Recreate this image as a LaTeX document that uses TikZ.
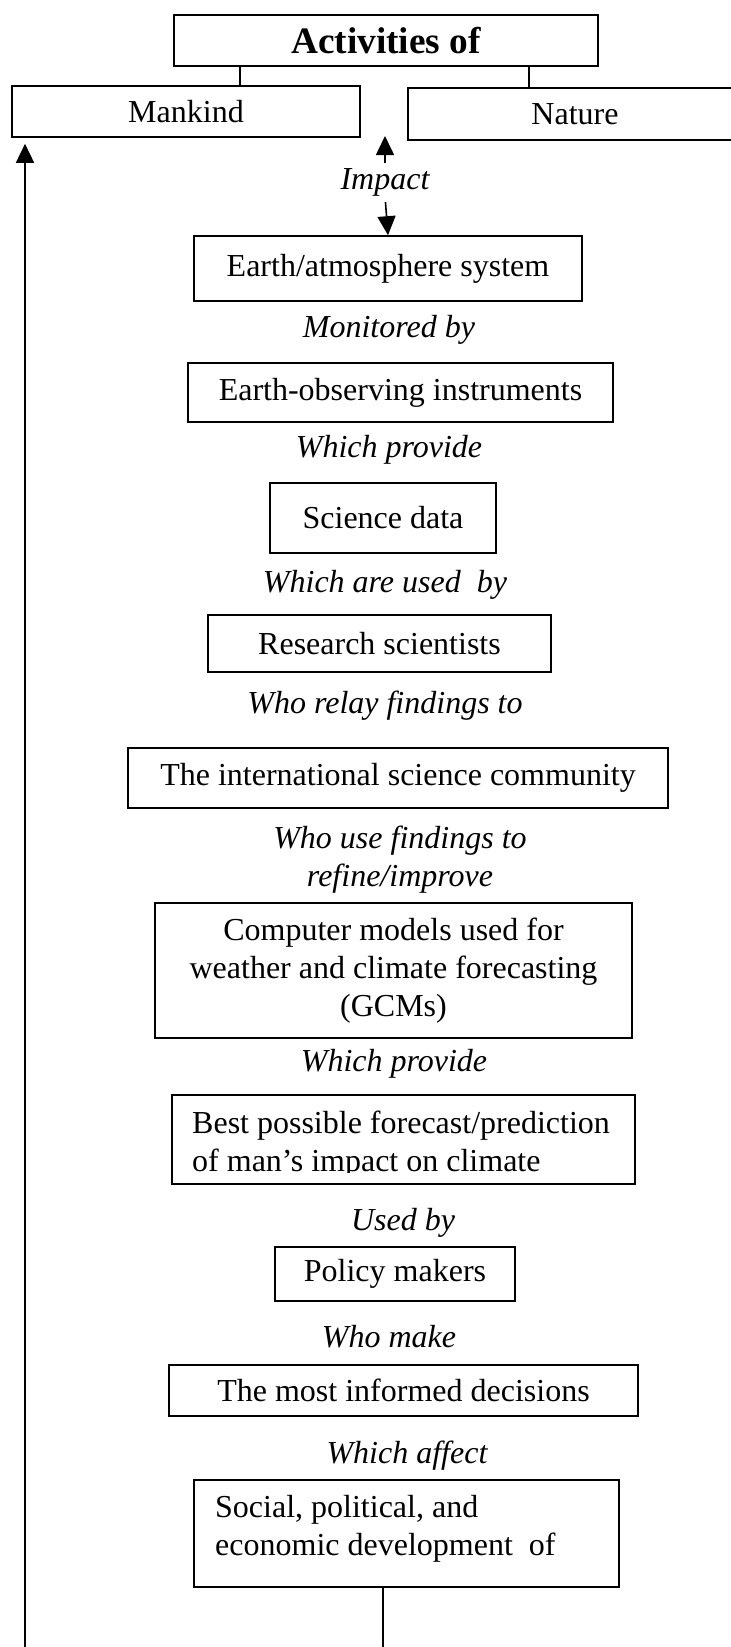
\documentclass[tikz,border=0pt]{standalone}
\usepackage{fontspec}
\setmainfont{Liberation Serif}
\usetikzlibrary{arrows.meta,calc}
\begin{document}
\begin{tikzpicture}[x=1pt,y=-1pt,
  box/.style={draw, line width=1.6pt, inner sep=0pt, align=center, font=\fontsize{32}{38}\selectfont},
  txt/.style={inner sep=0pt, font=\fontsize{32}{38}\selectfont},
  lbl/.style={inner sep=0pt, align=center, font=\fontsize{32}{38}\selectfont\itshape},
  conn/.style={line width=1.6pt},
  arr/.style={line width=1.6pt, -{Triangle[length=19pt,width=18pt]}}]
\useasboundingbox (0,0) rectangle (731,1647);
% top
\node[box, minimum width=424pt, minimum height=51pt, font=\fontsize{37.3}{44}\selectfont\bfseries] (act) at (386,40.5) {Activities of};
\node[box, minimum width=348pt, minimum height=51pt] (mank) at (186,111.5) {Mankind};
\node[box, minimum width=334pt, minimum height=52pt] (nat) at (575,114) {Nature};
\coordinate (c1) at (240,0);
\coordinate (c2) at (529,0);
\draw[conn] (c1 |- act.south) -- (c1 |- mank.north);
\draw[conn] (c2 |- act.south) -- (c2 |- nat.north);
% impact
\node[lbl] (imp) at (385,182) {Impact};
\coordinate (uptip) at (385,136);
\node[box, minimum width=388pt, minimum height=65pt] (earth) at (388,268.5) {Earth/atmosphere system};
\draw[arr, shorten <=4.5pt] (imp.north) -- (uptip);
\draw[arr, shorten <=6pt] (imp.south) -- (earth.north);
% chain
\node[lbl] (mon) at (389,330) {Monitored by};
\node[box, minimum width=425pt, minimum height=59pt] (obs) at (400.5,392.5) {Earth-observing instruments};
\node[lbl] (prov1) at (389,450) {Which provide};
\node[box, minimum width=226pt, minimum height=70pt] (sci) at (383,518) {Science data};
\node[lbl] (used) at (385,585) {Which are used\ \ by};
\node[box, minimum width=343pt, minimum height=57pt] (res) at (379.5,643.5) {Research scientists};
\node[lbl] (relay) at (385,706) {Who relay findings to};
\node[box, minimum width=540pt, minimum height=60pt] (intl) at (398,778) {The international science community};
\node[lbl] (refine) at (400,860) {Who use findings to\\refine/improve};
\node[box, minimum width=477pt, minimum height=135pt] (gcm) at (393.5,970.5) {Computer models used for\\weather and climate forecasting\\(GCMs)};
\node[lbl] (prov2) at (394,1064) {Which provide};
\node[box, minimum width=463pt, minimum height=89pt] (best) at (403.5,1139.5) {};
\node[txt, anchor=base west] (best1) at (192,1133) {Best possible forecast/prediction};
\node[txt, anchor=base west] (best2) at (192,1171) {of man’s impact on climate};
\fill[white] (176,1173) rectangle (631,1182.5);
\node[lbl] (usedby) at (403,1223) {Used by};
\node[box, minimum width=240pt, minimum height=54pt] (pol) at (395,1274) {Policy makers};
\node[lbl] (make) at (389,1337) {Who make};
\node[box, minimum width=469pt, minimum height=51pt] (dec) at (403.5,1390.5) {The most informed decisions};
\node[lbl] (affect) at (407,1456) {Which affect};
\node[box, minimum width=425pt, minimum height=107pt] (soc) at (406.5,1533.5) {};
\node[txt, anchor=base west] (soc1) at (215,1517) {Social, political, and};
\node[txt, anchor=base west] (soc2) at (215,1555) {economic development\ \ of};
% feedback
\coordinate (sb) at (383,1647);
\coordinate (lb) at (25,1647);
\draw[conn] (sb |- soc.south) -- (sb);
\draw[arr, shorten >=6pt] (lb) -- (lb |- mank.south);
\end{tikzpicture}
\end{document}
